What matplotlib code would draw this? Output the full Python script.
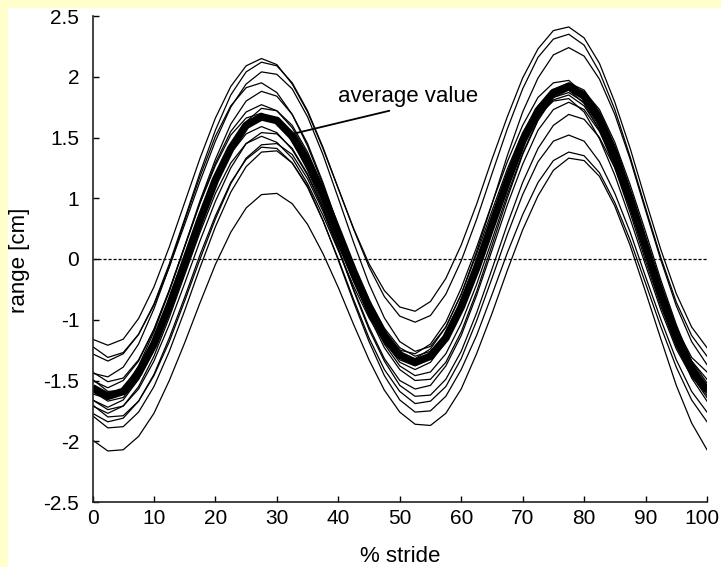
import numpy as np
import matplotlib
matplotlib.use("Agg")
import matplotlib.pyplot as plt
from matplotlib.patches import Rectangle
from matplotlib.transforms import ScaledTranslation

plt.rcParams['font.family'] = ['Liberation Sans', 'DejaVu Sans']

# % of stride, sampled every 2.5 %
stride = np.arange(0, 100.01, 2.5)

# single trials, range [cm] as read against the printed tick labels
trial01 = [-1.16, -1.21, -1.16, -0.98, -0.46, 0.20, 0.93, 1.33, 1.66, 1.92, 2.09, 2.15, 2.10, 1.94,
           1.71, 1.41, 1.08, 0.50, -0.08, -0.52, -0.79, -0.86, -0.70, -0.32, 0.23, 0.90, 1.32, 1.67,
           1.99, 2.23, 2.38, 2.41, 2.32, 2.11, 1.79, 1.41, 0.97, 0.15, -0.57, -1.06, -1.23]
trial02 = [-1.22, -1.31, -1.27, -1.12, -0.74, -0.08, 0.66, 1.21, 1.56, 1.85, 2.04, 2.12, 2.09, 1.95,
           1.72, 1.42, 1.08, 0.49, -0.13, -0.62, -0.94, -1.02, -0.93, -0.58, -0.03, 0.65, 1.20, 1.57,
           1.90, 2.16, 2.31, 2.35, 2.26, 2.04, 1.73, 1.34, 0.84, 0.02, -0.71, -1.13, -1.30]
trial03 = [-1.28, -1.34, -1.28, -1.12, -0.76, -0.13, 0.57, 1.14, 1.47, 1.75, 1.94, 2.04, 2.02, 1.90,
           1.67, 1.36, 1.00, 0.27, -0.41, -0.97, -1.18, -1.26, -1.22, -1.06, -0.58, 0.12, 0.90, 1.35,
           1.71, 1.99, 2.18, 2.24, 2.17, 1.98, 1.69, 1.32, 0.80, -0.02, -0.77, -1.18, -1.37]
trial04 = [-1.44, -1.47, -1.39, -1.20, -0.82, -0.13, 0.63, 1.18, 1.51, 1.76, 1.91, 1.95, 1.87, 1.69,
           1.43, 1.11, 0.52, -0.16, -0.76, -1.11, -1.25, -1.28, -1.20, -1.02, -0.48, 0.19, 0.91, 1.30,
           1.60, 1.83, 1.95, 1.97, 1.86, 1.65, 1.34, 0.97, 0.21, -0.52, -1.07, -1.31, -1.43]
trial05 = [-1.43, -1.51, -1.48, -1.33, -1.08, -0.52, 0.21, 0.96, 1.32, 1.61, 1.80, 1.88, 1.84, 1.69,
           1.45, 1.13, 0.54, -0.18, -0.84, -1.18, -1.35, -1.41, -1.35, -1.18, -0.84, -0.19, 0.53, 1.12,
           1.44, 1.69, 1.83, 1.87, 1.79, 1.59, 1.31, 0.94, 0.19, -0.54, -1.09, -1.34, -1.49]
trial06 = [-1.50, -1.56, -1.50, -1.34, -1.08, -0.51, 0.21, 0.93, 1.29, 1.55, 1.71, 1.77, 1.72, 1.58,
           1.36, 1.08, 0.53, -0.10, -0.67, -1.07, -1.23, -1.30, -1.26, -1.12, -0.75, -0.13, 0.58, 1.15,
           1.47, 1.73, 1.89, 1.95, 1.89, 1.71, 1.43, 1.07, 0.36, -0.42, -1.06, -1.34, -1.52]
trial07 = [-1.49, -1.59, -1.58, -1.45, -1.23, -0.85, -0.15, 0.58, 1.14, 1.43, 1.63, 1.74, 1.72, 1.60,
           1.38, 1.09, 0.49, -0.21, -0.87, -1.20, -1.38, -1.46, -1.43, -1.28, -1.03, -0.42, 0.31, 1.03,
           1.37, 1.65, 1.84, 1.92, 1.88, 1.73, 1.46, 1.11, 0.45, -0.35, -1.04, -1.35, -1.55]
trial08 = [-1.61, -1.65, -1.57, -1.38, -1.10, -0.53, 0.20, 0.92, 1.27, 1.52, 1.66, 1.70, 1.63, 1.47,
           1.23, 0.88, 0.25, -0.37, -0.92, -1.17, -1.29, -1.32, -1.24, -1.06, -0.58, 0.08, 0.79, 1.24,
           1.54, 1.76, 1.88, 1.89, 1.78, 1.56, 1.25, 0.76, -0.03, -0.78, -1.22, -1.46, -1.59]
trial09 = [-1.59, -1.67, -1.64, -1.49, -1.25, -0.88, -0.17, 0.55, 1.11, 1.38, 1.57, 1.65, 1.62, 1.49,
           1.27, 0.98, 0.34, -0.32, -0.94, -1.23, -1.41, -1.50, -1.49, -1.35, -1.10, -0.54, 0.22, 1.00,
           1.36, 1.64, 1.83, 1.89, 1.83, 1.64, 1.36, 1.00, 0.20, -0.59, -1.16, -1.44, -1.62]
trial10 = [-1.66, -1.72, -1.66, -1.49, -1.24, -0.84, -0.13, 0.59, 1.11, 1.37, 1.53, 1.59, 1.54, 1.40,
           1.19, 0.83, 0.23, -0.37, -0.92, -1.17, -1.31, -1.36, -1.30, -1.14, -0.77, -0.14, 0.56, 1.13,
           1.43, 1.67, 1.81, 1.85, 1.76, 1.57, 1.28, 0.86, 0.10, -0.65, -1.15, -1.41, -1.56]
trial11 = [-1.66, -1.74, -1.71, -1.57, -1.34, -1.04, -0.40, 0.30, 0.95, 1.25, 1.45, 1.54, 1.53, 1.41,
           1.20, 0.84, 0.18, -0.50, -1.06, -1.32, -1.50, -1.57, -1.54, -1.38, -1.13, -0.60, 0.14, 0.89,
           1.28, 1.56, 1.73, 1.79, 1.73, 1.55, 1.28, 0.86, 0.09, -0.68, -1.19, -1.46, -1.64]
trial12 = [-1.71, -1.77, -1.71, -1.55, -1.30, -0.96, -0.26, 0.44, 1.04, 1.29, 1.45, 1.51, 1.46, 1.33,
           1.12, 0.72, 0.14, -0.45, -0.97, -1.19, -1.33, -1.38, -1.32, -1.15, -0.77, -0.12, 0.59, 1.15,
           1.45, 1.68, 1.80, 1.82, 1.71, 1.49, 1.19, 0.66, -0.10, -0.84, -1.24, -1.47, -1.60]
trial13 = [-1.70, -1.80, -1.79, -1.67, -1.46, -1.18, -0.69, 0.00, 0.66, 1.12, 1.33, 1.44, 1.45, 1.36,
           1.16, 0.79, 0.16, -0.52, -1.08, -1.34, -1.54, -1.63, -1.62, -1.49, -1.26, -0.89, -0.17, 0.57,
           1.13, 1.41, 1.60, 1.69, 1.65, 1.50, 1.25, 0.83, 0.09, -0.67, -1.19, -1.48, -1.67]
trial14 = [-1.77, -1.84, -1.81, -1.67, -1.45, -1.15, -0.63, 0.07, 0.71, 1.13, 1.32, 1.42, 1.41, 1.29,
           1.09, 0.63, 0.00, -0.67, -1.15, -1.41, -1.59, -1.69, -1.67, -1.55, -1.32, -1.01, -0.32, 0.40,
           1.03, 1.30, 1.47, 1.52, 1.47, 1.30, 1.04, 0.44, -0.29, -1.00, -1.33, -1.59, -1.76]
trial15 = [-1.79, -1.89, -1.88, -1.76, -1.55, -1.26, -0.85, -0.14, 0.53, 1.05, 1.26, 1.38, 1.39, 1.29,
           1.10, 0.64, -0.02, -0.71, -1.18, -1.46, -1.66, -1.76, -1.75, -1.63, -1.41, -1.13, -0.59, 0.10,
           0.73, 1.13, 1.31, 1.38, 1.35, 1.21, 0.93, 0.31, -0.40, -1.06, -1.39, -1.66, -1.84]
trial16 = [-1.99, -2.08, -2.07, -1.96, -1.77, -1.50, -1.19, -0.72, -0.09, 0.44, 0.84, 1.03, 1.04, 0.91,
           0.57, 0.09, -0.47, -1.04, -1.33, -1.58, -1.76, -1.86, -1.87, -1.77, -1.57, -1.28, -0.90, -0.19,
           0.48, 1.02, 1.23, 1.33, 1.31, 1.18, 0.87, 0.22, -0.54, -1.16, -1.54, -1.85, -2.07]
average = [-1.56, -1.63, -1.59, -1.44, -1.20, -0.77, -0.07, 0.64, 1.15, 1.41, 1.60, 1.67, 1.64, 1.51,
           1.30, 1.03, 0.43, -0.21, -0.79, -1.13, -1.29, -1.35, -1.30, -1.15, -0.79, -0.15, 0.57, 1.14,
           1.47, 1.72, 1.87, 1.92, 1.84, 1.65, 1.36, 0.99, 0.20, -0.58, -1.14, -1.41, -1.58]
trials = [trial01, trial02, trial03, trial04, trial05, trial06, trial07, trial08,
          trial09, trial10, trial11, trial12, trial13, trial14, trial15, trial16]

# the printed y axis has evenly spaced ticks but uneven labels (no 0.5 / -0.5)
ytick_vals = [-2.5, -2, -1.5, -1, 0, 1, 1.5, 2, 2.5]
ytick_text = ['-2.5', '-2', '-1.5', '-1', '0', '1', '1.5', '2', '2.5']
ytick_pos = np.arange(len(ytick_vals)) - 4
xtick_vals = list(range(0, 101, 10))


def fwd(v):
    return np.interp(v, ytick_vals, ytick_pos)


def inv(v):
    return np.interp(v, ytick_pos, ytick_vals)


W, H = 721, 567
fig = plt.figure(figsize=(W / 100, H / 100), dpi=100, facecolor='#ffffcc')
# white page with a thin yellow strip on the left and top
fig.patches.append(Rectangle((8 / W, 0), 1, 1 - 8 / H, transform=fig.transFigure,
                             facecolor='white', edgecolor='none', zorder=-10))

ax = fig.add_axes([92.5 / W, 1 - 502 / H, (707 - 92.5) / W, (502 - 16) / H])
ax.set_yscale('function', functions=(fwd, inv))

for tr in trials:
    ax.plot(stride, tr, color='black', lw=0.9)
ax.plot(stride, average, color='black', lw=5.5, solid_capstyle='butt')
ax.axhline(0, color='black', lw=0.9, dashes=(2.5, 1.5))

ax.annotate('average value', xy=(32.6, 1.53), xytext=(51.3, 1.84),
            ha='center', va='center', fontsize=16,
            arrowprops=dict(arrowstyle='-', color='black', lw=1.3,
                            shrinkA=4, shrinkB=0, relpos=(0.49, 0.0)))

ax.set_xlim(0, 100)
ax.set_ylim(-2.5, 2.5)
ax.set_xticks(xtick_vals)
ax.set_yticks(ytick_vals)
ax.set_yticklabels(ytick_text)
ax.tick_params(direction='in', length=4, width=1, labelsize=15)
ax.tick_params(axis='y', pad=9.5)
ax.tick_params(axis='x', pad=5)
for s in ['top', 'right']:
    ax.spines[s].set_visible(False)
for s in ['left', 'bottom']:
    ax.spines[s].set_linewidth(1.2)
    ax.spines[s].set_color('#222222')

# the "100" label sits a little left so it stays inside the page
last = ax.get_xticklabels()[-1]
last.set_transform(last.get_transform() + ScaledTranslation(-5 / 100, 0, fig.dpi_scale_trans))

fig.text(400 / W, 1 - 557 / H, '% stride', ha='center', va='center', fontsize=16)
fig.text(20 / W, 1 - 260 / H, 'range [cm]', ha='center', va='center',
         rotation=90, fontsize=16)

fig.savefig('out.png', dpi=100, facecolor=fig.get_facecolor())
